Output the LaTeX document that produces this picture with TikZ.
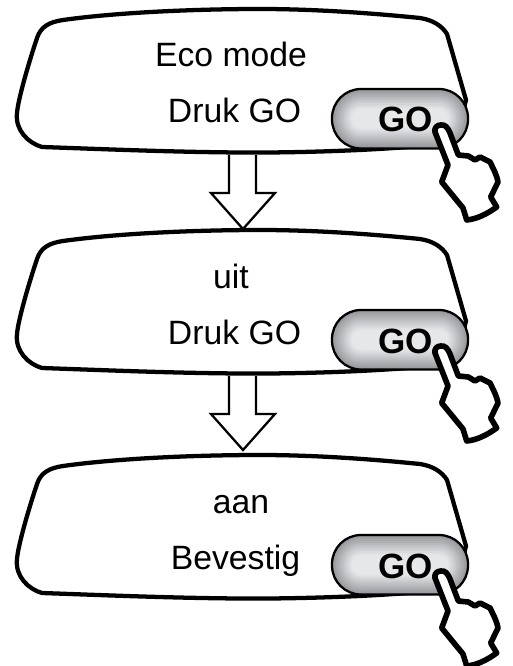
\documentclass[tikz,border=0pt]{standalone}
\usepackage{fontspec}
\setmainfont{Liberation Sans}
\definecolor{btnlight}{HTML}{E6E7E9}
\definecolor{btndark}{HTML}{97989B}
\tikzset{
  panelline/.style={draw=black,line width=3.2pt,fill=white,line join=round},
  blockarrow/.style={draw=black,line width=1.7pt,fill=white,line join=miter},
  handline/.style={draw=black,line width=4.2pt,fill=white,line join=round},
  btnborder/.style={draw=black,line width=1.7pt},
  bigtext/.style={font=\fontsize{25.3}{30}\selectfont,anchor=base,inner sep=0pt},
  gotext/.style={font=\fontsize{26.3}{30}\selectfont\bfseries,anchor=base,inner sep=0pt},
  pics/screen/.style args={#1/#2/#3/#4/#5}{code={
    \draw[panelline] (37,38) .. controls (41,26) and (50,22) .. (63,20)
      .. controls (120,12) and (200,9) .. (260,9)
      .. controls (320,9) and (380,14) .. (420,18)
      .. controls (433,20) and (442,26) .. (447,34)
      -- (466,100) -- (455,142)
      .. controls (400,150) and (300,153) .. (240,152.5)
      .. controls (170,152) and (100,149) .. (42,147)
      .. controls (28,143) and (15,130) .. (17,113)
      .. controls (18,100) and (28,65) .. (37,38) -- cycle;
    \node[bigtext] (-line one) at (#1,#2) {#3};
    \node[bigtext] (-line two) at (#4,123) {#5};
    \foreach \i in {0,...,13}{
      \pgfmathtruncatemacro{\p}{min(100,\i*10.5)}
      \pgfmathsetmacro{\ins}{\i*2}
      \pgfmathsetmacro{\rad}{29-\i*2}
      \fill[btnlight!\p!btndark,rounded corners=\rad*0.75pt]
        (332+\ins,89+\ins) rectangle (468-\ins,148.5-\ins);
    }
    \draw[btnborder,rounded corners=21.75pt] (332,89) rectangle (468,148.5);
    \node[gotext] (-go) at (405.5,132) {GO};
    \draw[handline] (440.7,125) .. controls (445,124) and (448,128) .. (450,133)
      -- (458.3,155) -- (468.3,156) -- (475,160) -- (480,157) -- (490,162)
      .. controls (494,170) and (497,176) .. (498,182)
      -- (490.7,197) -- (496.7,207)
      .. controls (487,214) and (477,219) .. (466.7,220)
      -- (463,208) -- (441.7,182) -- (448,165) -- (435,132)
      .. controls (434,128) and (437,125) .. (440.7,125) -- cycle;
  }}
}
\begin{document}
\begin{tikzpicture}[x=0.75pt,y=-0.75pt]
\useasboundingbox (0,0) rectangle (512,666);
\clip (0,0) rectangle (512,666);
\foreach \dy in {0,221}{
  \draw[blockarrow,shift={(0,\dy)}] (229,155) -- (229,193) -- (211,193) -- (243,229)
    -- (275,193) -- (256,193) -- (256,155);
}
\pic (first) at (0,0) {screen={231/67/Eco mode/234.5/Druk GO}};
\pic (second) at (0,221) {screen={231/67/uit/234.5/Druk GO}};
\pic (third) at (0,446) {screen={241/67/aan/235.5/Bevestig}};
\end{tikzpicture}
\end{document}
